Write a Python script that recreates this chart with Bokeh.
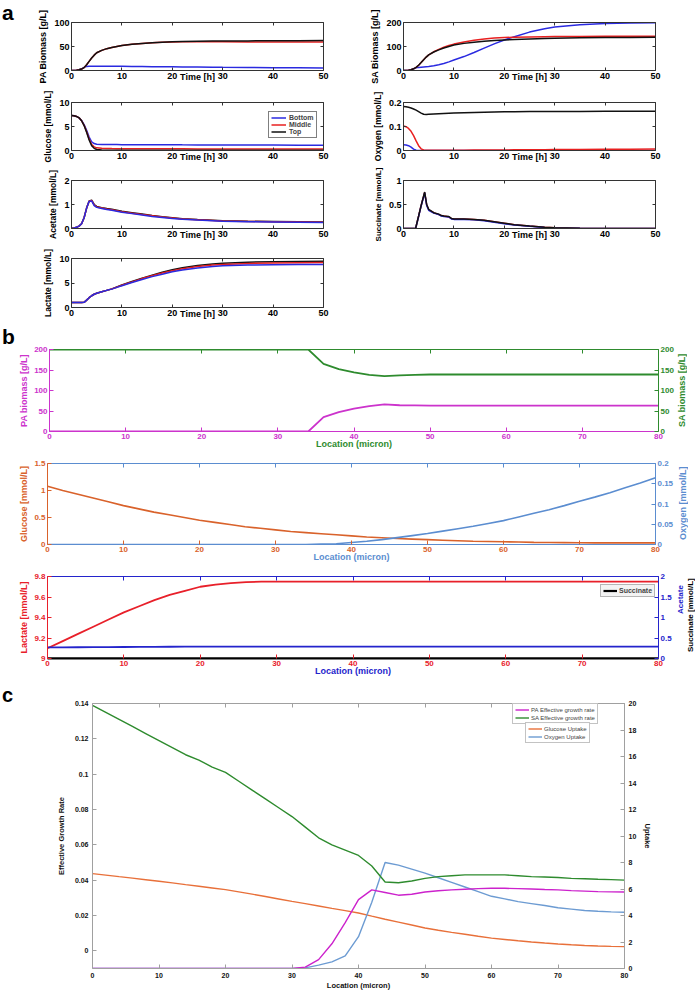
from bokeh.plotting import figure
from bokeh.models import Range1d, LinearAxis, FixedTicker, Legend, LegendItem, Div, Spacer
from bokeh.layouts import column, row
from bokeh.embed import file_html
from bokeh.resources import INLINE

FONT = "Liberation Sans"

# ------------------------------------------------------------------ panel a data
t_a = [0, 0.5, 1, 1.5, 2, 2.5, 3, 3.5, 4, 4.5, 5, 6, 7, 8, 9, 10, 12, 14, 16, 18, 20, 22, 25, 28, 30, 35, 40, 45, 50]
pa_top = [0, 0.2, 0.6, 1.5, 3, 6, 12, 19, 26, 32, 37, 42, 45.5, 48, 50, 52, 54.5, 56.5, 58, 59, 59.8, 60.3, 60.8, 61.2, 61.4, 61.7, 62, 62.2, 62.3]
pa_middle = [0, 0.2, 0.6, 1.5, 3, 6, 12, 19, 26, 32, 37, 42, 45.5, 48, 50, 52, 54.5, 56.5, 57.8, 58.8, 59.4, 59.7, 59.8, 59.8, 59.8, 59.6, 59.5, 59.4, 59.3]
pa_bottom = [0, 0.2, 0.6, 1.5, 3.5, 6.5, 8.5, 9, 9, 9, 9, 9, 8.9, 8.8, 8.7, 8.6, 8.4, 8.2, 8.0, 7.8, 7.6, 7.4, 7.1, 6.8, 6.6, 6.2, 5.8, 5.5, 5.2]

glc_top = [7.3, 7.25, 7.1, 6.8, 6.2, 5.2, 3.8, 2.2, 1.0, 0.45, 0.2, 0.1, 0.07, 0.05, 0.05, 0.04, 0.04, 0.04, 0.03, 0.03, 0.03, 0.03, 0.03, 0.03, 0.03, 0.03, 0.03, 0.03, 0.03]
glc_middle = [7.3, 7.25, 7.1, 6.8, 6.2, 5.25, 3.9, 2.4, 1.25, 0.75, 0.55, 0.45, 0.42, 0.4, 0.39, 0.38, 0.37, 0.36, 0.35, 0.35, 0.34, 0.34, 0.33, 0.33, 0.32, 0.32, 0.31, 0.31, 0.3]
glc_bottom = [7.3, 7.25, 7.1, 6.8, 6.25, 5.4, 4.2, 2.8, 1.8, 1.45, 1.32, 1.27, 1.25, 1.24, 1.23, 1.22, 1.21, 1.2, 1.2, 1.19, 1.19, 1.18, 1.17, 1.16, 1.15, 1.14, 1.12, 1.1, 1.08]

ace_top = [0, 0.02, 0.05, 0.1, 0.2, 0.45, 0.85, 1.15, 1.18, 1.0, 0.92, 0.87, 0.83, 0.8, 0.76, 0.72, 0.66, 0.6, 0.54, 0.49, 0.45, 0.41, 0.37, 0.34, 0.32, 0.3, 0.29, 0.28, 0.27]
ace_middle = [0, 0.02, 0.05, 0.1, 0.2, 0.45, 0.85, 1.14, 1.17, 0.98, 0.9, 0.85, 0.81, 0.78, 0.74, 0.7, 0.64, 0.58, 0.53, 0.48, 0.44, 0.4, 0.36, 0.33, 0.31, 0.29, 0.28, 0.27, 0.26]
ace_bottom = [0, 0.02, 0.05, 0.1, 0.2, 0.45, 0.85, 1.13, 1.15, 0.95, 0.88, 0.83, 0.79, 0.76, 0.72, 0.68, 0.62, 0.56, 0.5, 0.46, 0.42, 0.39, 0.35, 0.32, 0.3, 0.28, 0.27, 0.26, 0.25]

lac_top = [1, 1, 1, 1, 1, 1.05, 1.5, 2.0, 2.4, 2.7, 2.9, 3.2, 3.5, 3.8, 4.2, 4.6, 5.3, 6.0, 6.6, 7.2, 7.7, 8.1, 8.55, 8.9, 9.05, 9.25, 9.35, 9.4, 9.45]
lac_middle = [1, 1, 1, 1, 1, 1.05, 1.5, 2.0, 2.4, 2.7, 2.9, 3.2, 3.5, 3.8, 4.15, 4.55, 5.2, 5.9, 6.5, 7.05, 7.5, 7.9, 8.35, 8.65, 8.8, 9.0, 9.1, 9.15, 9.2]
lac_bottom = [1, 1, 1, 1, 1, 1.05, 1.5, 2.0, 2.4, 2.7, 2.9, 3.2, 3.5, 3.75, 4.1, 4.45, 5.1, 5.7, 6.3, 6.8, 7.3, 7.65, 8.05, 8.35, 8.5, 8.65, 8.72, 8.76, 8.8]

sa_top = [0, 0.5, 1, 3, 7, 13, 22, 33, 45, 56, 65, 77, 86, 94, 100, 106, 113, 118, 122, 125, 127, 129, 131, 133, 134, 136, 137, 138, 139]
sa_middle = [0, 0.5, 1, 3, 7, 13, 22, 33, 45, 56, 65, 78, 88, 97, 104, 110, 119, 126, 131, 135, 137, 139, 140, 141, 141.5, 142, 142.5, 143, 143]
sa_bottom = [0, 0.5, 1, 3, 7, 11, 13, 14, 15, 16, 17, 20, 24, 29, 36, 44, 58, 75, 93, 111, 127, 141, 160, 174, 181, 191, 196, 198, 199]

oxy_top = [0.183, 0.182, 0.18, 0.177, 0.173, 0.168, 0.162, 0.156, 0.151, 0.15, 0.151, 0.152, 0.153, 0.154, 0.155, 0.156, 0.157, 0.158, 0.159, 0.16, 0.161, 0.161, 0.162, 0.162, 0.163, 0.163, 0.164, 0.164, 0.164]
oxy_middle = [0.102, 0.099, 0.092, 0.08, 0.062, 0.04, 0.02, 0.007, 0.002, 0.001, 0.001, 0.001, 0.001, 0.001, 0.001, 0.001, 0.001, 0.002, 0.002, 0.002, 0.002, 0.003, 0.003, 0.003, 0.004, 0.004, 0.005, 0.005, 0.006]
oxy_bottom = [0.024, 0.023, 0.02, 0.014, 0.006, 0.001, 0, 0, 0, 0, 0, 0, 0, 0, 0, 0, 0, 0, 0, 0, 0, 0, 0, 0, 0, 0, 0, 0, 0]

t_succ = [0, 2.4, 3, 3.5, 4.2, 4.6, 5, 6, 7, 7.5, 8, 9, 9.5, 10, 12, 14, 16, 18, 20, 22, 25, 28, 30, 35, 40, 50]
succ_top = [0, 0, 0.26, 0.48, 0.76, 0.5, 0.4, 0.33, 0.3, 0.27, 0.26, 0.25, 0.21, 0.2, 0.2, 0.19, 0.17, 0.14, 0.11, 0.08, 0.05, 0.025, 0.015, 0.004, 0.001, 0]
succ_middle = [0, 0, 0.26, 0.48, 0.75, 0.49, 0.39, 0.33, 0.29, 0.27, 0.26, 0.24, 0.21, 0.2, 0.2, 0.19, 0.17, 0.14, 0.11, 0.08, 0.05, 0.025, 0.015, 0.004, 0.001, 0]
succ_bottom = [0, 0, 0.25, 0.47, 0.74, 0.48, 0.38, 0.32, 0.29, 0.26, 0.25, 0.24, 0.2, 0.19, 0.19, 0.18, 0.16, 0.13, 0.1, 0.075, 0.045, 0.022, 0.013, 0.003, 0.001, 0]

time_ticks = [0, 10, 20, 30, 40, 50]
time_labels = ["0", "10", "20", "30", "40", "50"]

# ------------------------------------------------------------------ panel b data
loc_b = [0, 2, 4, 6, 8, 10, 12, 14, 16, 18, 20, 22, 24, 26, 28, 30, 32, 34, 36, 38, 40,
         42, 44, 46, 48, 50, 52, 54, 56, 58, 60, 62, 64, 66, 68, 70, 72, 74, 76, 78, 80]
pa_b = [0, 0, 0, 0, 0, 0, 0, 0, 0, 0, 0, 0, 0, 0, 0, 0, 0, 0, 35, 47, 56,
        62, 66, 64, 63.5, 63, 63, 63, 63, 63, 63, 63, 63, 63, 63, 63, 63, 63, 63, 63, 63]
sa_b = [200, 200, 200, 200, 200, 200, 200, 200, 200, 200, 200, 200, 200, 200, 200, 200, 200, 200, 165, 152, 144,
        138, 135, 137, 138, 139, 139, 139, 139, 139, 139, 139, 139, 139, 139, 139, 139, 139, 139, 139, 139]
glucose_b = [1.08, 1.0, 0.93, 0.86, 0.79, 0.72, 0.66, 0.6, 0.55, 0.5, 0.45, 0.41, 0.37, 0.33, 0.3, 0.27, 0.24, 0.22, 0.2, 0.18, 0.16,
             0.14, 0.125, 0.11, 0.1, 0.09, 0.08, 0.07, 0.06, 0.055, 0.05, 0.045, 0.04, 0.037, 0.034, 0.032, 0.03, 0.03, 0.03, 0.03, 0.03]
oxygen_b = [0, 0, 0, 0, 0, 0, 0, 0, 0, 0, 0, 0, 0, 0, 0, 0, 0, 0, 0.001, 0.002, 0.005,
            0.008, 0.012, 0.017, 0.022, 0.027, 0.033, 0.039, 0.045, 0.052, 0.059, 0.068, 0.077, 0.086, 0.096, 0.107, 0.117, 0.128, 0.14, 0.152, 0.165]
lactate_b = [9.10, 9.17, 9.24, 9.31, 9.38, 9.45, 9.51, 9.57, 9.62, 9.66, 9.70, 9.72, 9.735, 9.745, 9.75, 9.75, 9.75, 9.75, 9.75, 9.75, 9.75,
             9.75, 9.75, 9.75, 9.75, 9.75, 9.75, 9.75, 9.75, 9.75, 9.75, 9.75, 9.75, 9.75, 9.75, 9.75, 9.75, 9.75, 9.75, 9.75, 9.75]
acetate_b = [0.27, 0.272, 0.274, 0.276, 0.278, 0.28, 0.282, 0.284, 0.286, 0.288, 0.29, 0.29, 0.29, 0.29, 0.29, 0.29, 0.29, 0.29, 0.29, 0.29, 0.29,
             0.29, 0.29, 0.29, 0.29, 0.29, 0.29, 0.29, 0.29, 0.29, 0.29, 0.29, 0.29, 0.29, 0.29, 0.29, 0.29, 0.29, 0.29, 0.29, 0.29]
succinate_b = [0, 0, 0, 0, 0, 0, 0, 0, 0, 0, 0, 0, 0, 0, 0, 0, 0, 0, 0, 0, 0,
               0, 0, 0, 0, 0, 0, 0, 0, 0, 0, 0, 0, 0, 0, 0, 0, 0, 0, 0, 0]

loc_ticks = [0, 10, 20, 30, 40, 50, 60, 70, 80]
loc_labels = ["0", "10", "20", "30", "40", "50", "60", "70", "80"]

# ------------------------------------------------------------------ panel c data
loc_c = [0, 2, 4, 6, 8, 10, 12, 14, 16, 18, 20, 22, 24, 26, 28, 30, 32, 34, 36, 38, 40,
         42, 44, 46, 48, 50, 52, 54, 56, 58, 60, 62, 64, 66, 68, 70, 72, 74, 76, 78, 80]
sa_rate = [0.139, 0.135, 0.131, 0.127, 0.123, 0.119, 0.115, 0.111, 0.108, 0.104, 0.101, 0.096, 0.091, 0.086, 0.081, 0.076, 0.070, 0.064, 0.060, 0.057, 0.054,
           0.048, 0.039, 0.0385, 0.0395, 0.041, 0.042, 0.0425, 0.043, 0.043, 0.043, 0.043, 0.0425, 0.042, 0.0418, 0.0415, 0.041, 0.0408, 0.0405, 0.0403, 0.040]
pa_rate = [-0.01, -0.01, -0.01, -0.01, -0.01, -0.01, -0.01, -0.01, -0.01, -0.01, -0.01, -0.01, -0.01, -0.01, -0.01, -0.01, -0.0092, -0.005, 0.004, 0.016, 0.029,
           0.0345, 0.033, 0.0315, 0.032, 0.0333, 0.034, 0.0345, 0.0349, 0.0352, 0.0354, 0.0354, 0.0352, 0.035, 0.0347, 0.0345, 0.0341, 0.0338, 0.0335, 0.0334, 0.0333]
glucose_uptake = [7.16, 7.05, 6.93, 6.82, 6.70, 6.58, 6.46, 6.33, 6.21, 6.08, 5.95, 5.78, 5.61, 5.43, 5.25, 5.07, 4.9, 4.72, 4.54, 4.37, 4.19,
                  3.95, 3.72, 3.5, 3.28, 3.06, 2.89, 2.73, 2.58, 2.43, 2.29, 2.19, 2.09, 2.0, 1.92, 1.85, 1.79, 1.74, 1.7, 1.67, 1.65]
oxygen_uptake = [0, 0, 0, 0, 0, 0, 0, 0, 0, 0, 0, 0, 0, 0, 0, 0, 0.05, 0.25, 0.5, 0.95, 2.4,
                 5.0, 8.0, 7.8, 7.5, 7.2, 6.85, 6.5, 6.15, 5.8, 5.45, 5.25, 5.05, 4.9, 4.75, 4.58, 4.48, 4.38, 4.32, 4.27, 4.25]
rate_ticks = [0, 0.02, 0.04, 0.06, 0.08, 0.1, 0.12, 0.14]
rate_labels = ["0", "0.02", "0.04", "0.06", "0.08", "0.1", "0.12", "0.14"]
uptake_ticks = [0, 2, 4, 6, 8, 10, 12, 14, 16, 18, 20]
uptake_labels = ["0", "2", "4", "6", "8", "10", "12", "14", "16", "18", "20"]

# ------------------------------------------------------------------ colours
A_BLUE, A_RED, A_BLACK, A_AX = "#2a2ae0", "#e82020", "#111111", "#333333"
MAG, GRN = "#cc33cc", "#2e8b2e"
ORG, LBLU = "#d9622b", "#5b8dd0"
RED, BLU = "#e8202a", "#2424cc"
C_MAG, C_GRN, C_ORG, C_BLU, C_AX = "#cc22cc", "#2e8b2e", "#e8703a", "#6c9bd2", "#a0a0a0"
CSS_FONT = "font-family: 'Liberation Sans', Arial, sans-serif; font-weight: bold;"


def make_fig(width, height, ml, mr, mt, mb, xr, yr):
    p = figure(width=width, height=height, min_border_left=ml, min_border_right=mr,
               min_border_top=mt, min_border_bottom=mb,
               x_range=Range1d(*xr), y_range=Range1d(*yr),
               output_backend="svg", toolbar_location=None)
    p.xgrid.visible = False
    p.ygrid.visible = False
    p.outline_line_color = None
    return p


def sty(ax, color, lab_color, size, ticks, labels, tick_in=3, standoff=2):
    ax.ticker = FixedTicker(ticks=ticks)
    if labels is not None:
        ax.major_label_overrides = dict(zip(ticks, labels))
    ax.axis_line_color = color
    ax.major_tick_line_color = color
    ax.major_tick_in = tick_in
    ax.major_tick_out = 0
    ax.minor_tick_line_color = None
    ax.major_label_text_color = lab_color
    ax.major_label_text_font = FONT
    ax.major_label_text_font_style = "bold"
    ax.major_label_text_font_size = size
    ax.major_label_standoff = standoff


def ax_label(ax, text, color, size, standoff):
    ax.axis_label = text
    ax.axis_label_text_color = color
    ax.axis_label_text_font = FONT
    ax.axis_label_text_font_style = "bold"
    ax.axis_label_text_font_size = size
    ax.axis_label_standoff = standoff


def mirror(p, place, color, ticks, range_name=None, tick_in=3):
    ax = LinearAxis(y_range_name=range_name) if range_name else LinearAxis()
    sty(ax, color, None, "8px", ticks, None, tick_in=tick_in, standoff=0)
    ax.major_label_text_color = None
    p.add_layout(ax, place)
    return ax


def panel_div(letter, w, h, size, shift):
    html = ('<div style="%s font-size: %dpx; line-height: %dpx; margin: 0; padding: 0; '
            'position: relative; top: %dpx; left: 2px;">%s</div>' % (CSS_FONT, size, size, shift, letter))
    return Div(text=html, width=w, height=h, margin=0)


def right_label_div(w, h, labels):
    parts = []
    for text, color, size, left, top, fh in labels:
        parts.append(
            '<div style="position: absolute; left: %dpx; top: %dpx; height: %dpx; width: 10px; '
            'writing-mode: vertical-rl; transform: rotate(180deg); text-align: center; white-space: nowrap; '
            '%s font-size: %spx; line-height: 10px; color: %s;">%s</div>' % (left, top, fh, CSS_FONT, size, color, text))
    html = '<div style="position: relative; width: %dpx; height: %dpx;">%s</div>' % (w, h, "".join(parts))
    return Div(text=html, width=w, height=h, margin=0)


# ------------------------------------------------------------------ panel a
def a_fig(left_side, height, mt, mb, ylabel, ymax, yticks, ylabels, series, xvals, ylab_size="8.5px"):
    if left_side:
        w, ml, mr = 328, 51, 25
    else:
        w, ml, mr = 348, 55, 41
    p = make_fig(w, height, ml, mr, mt, mb, (0, 50), (0, ymax))
    rends = []
    for ys, col in series:
        rends.append(p.line(xvals, ys, line_color=col, line_width=1.5))
    xb, yl = p.xaxis[0], p.yaxis[0]
    sty(xb, A_AX, "black", "9px", time_ticks, time_labels)
    ax_label(xb, "Time [h]", "black", "9px", -10)
    sty(yl, A_AX, "black", "9px", yticks, ylabels)
    ax_label(yl, ylabel, "black", ylab_size, 3)
    mirror(p, "above", A_AX, time_ticks)
    mirror(p, "right", A_AX, yticks)
    return p, rends


p_pa, _ = a_fig(True, 86, 22, 16, "PA Biomass [g/L]", 100, [0, 50, 100], ["0", "50", "100"],
                [(pa_bottom, A_BLUE), (pa_middle, A_RED), (pa_top, A_BLACK)], t_a, "9px")
p_sa, _ = a_fig(False, 86, 22, 16, "SA Biomass [g/L]", 200, [0, 100, 200], ["0", "100", "200"],
                [(sa_bottom, A_BLUE), (sa_middle, A_RED), (sa_top, A_BLACK)], t_a, "9px")

p_glc, glc_r = a_fig(True, 78, 16, 14, "Glucose [mmol/L]", 10, [0, 5, 10], ["0", "5", "10"],
                     [(glc_bottom, A_BLUE), (glc_middle, A_RED), (glc_top, A_BLACK)], t_a)
leg = Legend(items=[LegendItem(label="Bottom", renderers=[glc_r[0]]),
                    LegendItem(label="Middle", renderers=[glc_r[1]]),
                    LegendItem(label="Top", renderers=[glc_r[2]])],
             location=(197, 12))
leg.label_text_font = FONT
leg.label_text_font_style = "bold"
leg.label_text_font_size = "7px"
leg.label_height = 7
leg.glyph_height = 7
leg.glyph_width = 15
leg.label_standoff = 3
leg.spacing = 0
leg.padding = 2
leg.margin = 0
leg.border_line_color = "black"
leg.border_line_width = 1
p_glc.add_layout(leg)
p_oxy, _ = a_fig(False, 78, 16, 14, "Oxygen [mmol/L]", 0.2, [0, 0.1, 0.2], ["0", "0.1", "0.2"],
                 [(oxy_bottom, A_BLUE), (oxy_middle, A_RED), (oxy_top, A_BLACK)], t_a)

p_ace, _ = a_fig(True, 78, 16, 13, "Acetate [mmol/L]", 2, [0, 1, 2], ["0", "1", "2"],
                 [(ace_top, A_BLACK), (ace_middle, A_RED), (ace_bottom, A_BLUE)], t_a)
p_suc, _ = a_fig(False, 78, 16, 13, "Succinate [mmol/L]", 1, [0, 0.5, 1], ["0", "0.5", "1"],
                 [(succ_middle, A_RED), (succ_bottom, A_BLUE), (succ_top, A_BLACK)], t_succ, "8px")

p_lac, _ = a_fig(True, 84, 16, 19, "Lactate [mmol/L]", 10, [0, 5, 10], ["0", "5", "10"],
                 [(lac_top, A_BLACK), (lac_middle, A_RED), (lac_bottom, A_BLUE)], t_a)


# ------------------------------------------------------------------ panel b
def b_fig(height, mt, mb, lr, rr, lcol, rcol, lticks, llabels, rticks, rlabels, ylab_l, xcol, xlabcol):
    p = make_fig(660, height, 30, 18, mt, mb, (0, 80), lr)
    p.extra_y_ranges = {"r": Range1d(*rr)}
    xb, yl = p.xaxis[0], p.yaxis[0]
    sty(xb, lcol, xcol, "8px", loc_ticks, loc_labels, tick_in=4)
    ax_label(xb, "Location (micron)", xlabcol, "9px", -3)
    sty(yl, lcol, lcol, "8px", lticks, llabels, tick_in=4)
    ax_label(yl, ylab_l, lcol, "9px", 2)
    rax = LinearAxis(y_range_name="r")
    sty(rax, rcol, rcol, "8px", rticks, rlabels, tick_in=4)
    p.add_layout(rax, "right")
    mirror(p, "above", rcol, loc_ticks, tick_in=4)
    return p, xb, rax


p_b1, _, _ = b_fig(127, 23, 22, (0, 200), (0, 200), MAG, GRN,
                   [0, 50, 100, 150, 200], ["0", "50", "100", "150", "200"],
                   [0, 50, 100, 150, 200], ["0", "50", "100", "150", "200"],
                   "PA biomass [g/L]", MAG, GRN)
p_b1.line(loc_b, sa_b, line_color=GRN, line_width=1.8, y_range_name="r")
p_b1.line(loc_b, pa_b, line_color=MAG, line_width=1.8)
lab_b1 = right_label_div(20, 127, [("SA biomass [g/L]", GRN, 9, 1, 23, 82)])

p_b2, xb2, _ = b_fig(113, 10, 22, (0, 1.5), (0, 0.2), ORG, LBLU,
                     [0, 0.5, 1, 1.5], ["0", "0.5", "1", "1.5"],
                     [0, 0.05, 0.1, 0.15, 0.2], ["0", "0.05", "0.1", "0.15", "0.2"],
                     "Glucose [mmol/L]", ORG, LBLU)
xb2.axis_line_color = LBLU
p_b2.line(loc_b, glucose_b, line_color=ORG, line_width=1.6)
p_b2.line(loc_b, oxygen_b, line_color=LBLU, line_width=1.6, y_range_name="r")
lab_b2 = right_label_div(20, 113, [("Oxygen [mmol/L]", LBLU, 9, 2, 10, 81)])

p_b3, xb3, rax3 = b_fig(114, 10, 22, (9, 9.8), (0, 2), RED, BLU,
                        [9, 9.2, 9.4, 9.6, 9.8], ["9", "9.2", "9.4", "9.6", "9.8"],
                        [0, 0.5, 1, 1.5, 2], ["0", "0.5", "1", "1.5", "2"],
                        "Lactate [mmol/L]", RED, BLU)
xb3.axis_line_color = "black"
xb3.axis_line_width = 2
p_b3.line(loc_b, lactate_b, line_color=RED, line_width=1.8)
p_b3.line(loc_b, acetate_b, line_color=BLU, line_width=1.8, y_range_name="r")
r_succ = p_b3.line(loc_b, succinate_b, line_color="black", line_width=2.2, y_range_name="r")
leg3 = Legend(items=[LegendItem(label="Succinate", renderers=[r_succ])], location=(553, 61))
leg3.label_text_font = FONT
leg3.label_text_font_style = "bold"
leg3.label_text_font_size = "7px"
leg3.label_height = 7
leg3.glyph_height = 7
leg3.glyph_width = 14
leg3.label_standoff = 2
leg3.padding = 2
leg3.margin = 0
leg3.border_line_color = "#777777"
leg3.background_fill_color = "#f2f2f2"
p_b3.add_layout(leg3)
lab_b3 = right_label_div(20, 114, [("Acetate", BLU, 8, 0, 10, 48),
                                   ("Succinate [mmol/L]", "black", 8, 10, 5, 88)])

# ------------------------------------------------------------------ panel c
p_c = make_fig(680, 312, 76, 72, 23, 23, (0, 80), (-0.01, 0.14))
p_c.extra_y_ranges = {"u": Range1d(0, 20)}
xbc, ylc = p_c.xaxis[0], p_c.yaxis[0]
sty(xbc, C_AX, "#111111", "7px", loc_ticks, loc_labels, tick_in=4, standoff=4)
ax_label(xbc, "Location (micron)", "#111111", "7.5px", 0)
sty(ylc, C_AX, "#111111", "7px", rate_ticks, rate_labels, tick_in=4, standoff=4)
ax_label(ylc, "Effective Growth Rate", "#111111", "7.5px", 6)
uax = LinearAxis(y_range_name="u")
sty(uax, C_AX, "#111111", "7px", uptake_ticks, uptake_labels, tick_in=4, standoff=4)
ax_label(uax, "Uptake", "#111111", "7.5px", 4)
p_c.add_layout(uax, "right")
mirror(p_c, "above", C_AX, loc_ticks, tick_in=4)

r_gu = p_c.line(loc_c, glucose_uptake, line_color=C_ORG, line_width=1.4, y_range_name="u")
r_ou = p_c.line(loc_c, oxygen_uptake, line_color=C_BLU, line_width=1.4, y_range_name="u")
r_pa = p_c.line(loc_c, pa_rate, line_color=C_MAG, line_width=1.4)
r_sa = p_c.line(loc_c, sa_rate, line_color=C_GRN, line_width=1.4)


def small_legend(items, loc):
    lg = Legend(items=items, location=loc)
    lg.label_text_font = FONT
    lg.label_text_font_size = "6px"
    lg.label_height = 7
    lg.glyph_height = 7
    lg.glyph_width = 14
    lg.label_standoff = 2
    lg.spacing = 1
    lg.padding = 2
    lg.margin = 0
    lg.border_line_color = "#888888"
    lg.background_fill_color = "white"
    return lg


p_c.add_layout(small_legend([LegendItem(label="PA Effective growth rate", renderers=[r_pa]),
                             LegendItem(label="SA Effective growth rate", renderers=[r_sa])], (420, 244)))
p_c.add_layout(small_legend([LegendItem(label="Glucose Uptake", renderers=[r_gu]),
                             LegendItem(label="Oxygen Uptake", renderers=[r_ou])], (433, 225)))

# ------------------------------------------------------------------ layout
layout = column(
    row(panel_div("a", 20, 86, 21, 2), p_pa, p_sa),
    row(Spacer(width=20, height=78), p_glc, p_oxy),
    row(Spacer(width=20, height=78), p_ace, p_suc),
    row(Spacer(width=20, height=84), p_lac),
    row(panel_div("b", 16, 127, 21, 0), p_b1, lab_b1),
    row(Spacer(width=16, height=113), p_b2, lab_b2),
    row(Spacer(width=16, height=114), p_b3, lab_b3),
    row(panel_div("c", 16, 312, 20, 5), p_c),
)

with open("out.html", "w") as f:
    f.write(file_html(layout, INLINE))
